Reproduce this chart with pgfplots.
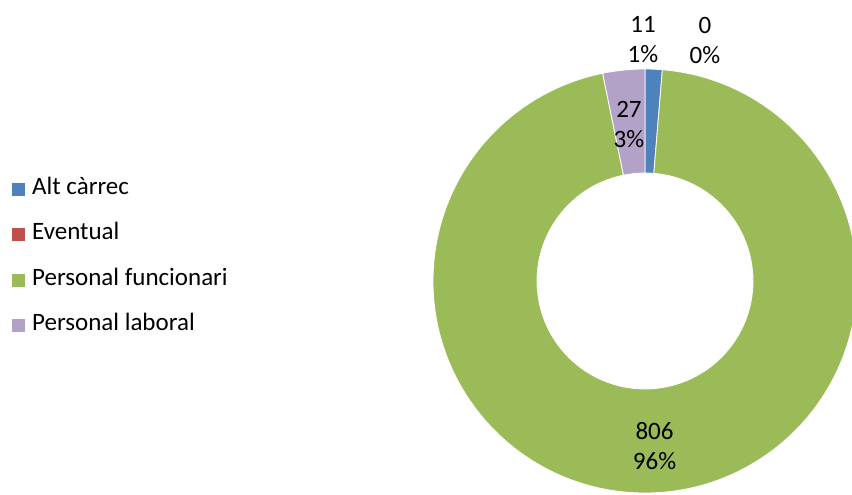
\documentclass[border=0pt]{standalone}
\usepackage{pgfplots}
\pgfplotsset{compat=1.18}
\usepackage{fontspec}
\setmainfont{Carlito}
\definecolor{altc}{HTML}{4F81BD}
\definecolor{event}{HTML}{C0504D}
\definecolor{func}{HTML}{9BBB59}
\definecolor{labo}{HTML}{B3A2C7}

% one donut slice: colour, start angle, end angle (clockwise)
\newcommand{\slice}[3]{%
  \fill[#1, draw=white, line width=0.8pt]
    (axis cs:{645+212*cos(#2)},{214+212*sin(#2)})
    arc[start angle=#2, end angle=#3, radius=212]
    -- (axis cs:{645+108*cos(#3)},{214+108*sin(#3)})
    arc[start angle=#3, end angle=#2, radius=108] -- cycle;}

\begin{document}
\begin{tikzpicture}
% values: Alt carrec, Eventual, Personal funcionari, Personal laboral
\pgfmathsetmacro{\vA}{11}
\pgfmathsetmacro{\vB}{0}
\pgfmathsetmacro{\vC}{806}
\pgfmathsetmacro{\vD}{27}
\pgfmathsetmacro{\tot}{\vA+\vB+\vC+\vD}
\pgfmathsetmacro{\aA}{90-\vA/\tot*360}
\pgfmathsetmacro{\aB}{\aA-\vB/\tot*360}
\pgfmathsetmacro{\aC}{\aB-\vC/\tot*360}
\pgfmathsetmacro{\aD}{\aC-\vD/\tot*360}
\pgfmathsetmacro{\mC}{(\aB+\aC)/2}
\pgfmathsetmacro{\mD}{(\aC+\aD)/2}
\begin{axis}[
  width=852pt, height=495pt, scale only axis,
  xmin=0, xmax=852, ymin=0, ymax=495,
  enlargelimits=false, hide axis, clip=false,
  legend cell align=left,
  legend image code/.code={\fill[#1, draw=none] (0pt,-6.5pt) rectangle (13pt,6.5pt);},
  legend style={draw=none, fill=none, inner sep=0pt,
    at={(axis cs:12,237.5)}, anchor=west,
    font=\fontsize{25}{30}\selectfont,
    row sep=25.3pt,
    nodes={inner sep=0pt, text height=15pt, text depth=5pt},
    /tikz/every odd column/.append style={column sep=7pt}},
]
\addlegendimage{fill=altc}\addlegendentry{Alt càrrec}
\addlegendimage{fill=event}\addlegendentry{Eventual}
\addlegendimage{fill=func}\addlegendentry{Personal funcionari}
\addlegendimage{fill=labo}\addlegendentry{Personal laboral}

\slice{altc}{90}{\aA}
\slice{func}{\aB}{\aC}
\slice{labo}{\aC}{\aD}

\begin{scope}[every node/.style={align=center, font=\fontsize{25}{30}\selectfont}]
\node at (axis cs:{645+160*cos(\mC)},{214+160*sin(\mC)-5}) {806\\96\%};
\node at (axis cs:{645+160*cos(\mD)},{214+160*sin(\mD)-3}) {27\\3\%};
\node at (axis cs:643,455) {11\\1\%};
\node at (axis cs:705,455) {0\\0\%};
\end{scope}
\end{axis}
\pgfresetboundingbox
\path (current axis.south west) rectangle (current axis.north east);
\end{tikzpicture}
\end{document}
